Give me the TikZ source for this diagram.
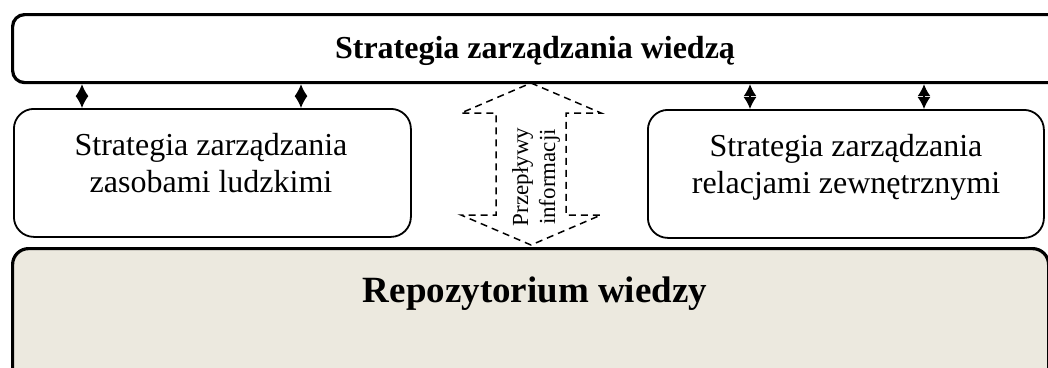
\documentclass[tikz,border=0pt]{standalone}
\usepackage{fontspec}
\setmainfont{Liberation Serif}
\usetikzlibrary{arrows.meta}
\definecolor{repofill}{RGB}{236,233,223}
\tikzset{
  heavybox/.style={draw, line width=3.2pt, rounded corners=12pt, inner sep=0pt},
  lightbox/.style={draw, line width=1.8pt, rounded corners=20pt, inner sep=0pt, anchor=north west},
  linkarrow/.style={line width=1.4pt, {Latex[length=12pt,width=13pt]}-{Latex[length=12pt,width=13pt]}},
  flowline/.style={line width=1.5pt, dash pattern=on 7pt off 5pt, line join=miter},
  boxlabel/.style={font=\fontsize{32}{37}\selectfont, align=center, inner sep=0pt},
}
\begin{document}
\begin{tikzpicture}[x=1pt, y=-1pt]
\useasboundingbox (0,0) rectangle (1048,367);
\clip (0,0) rectangle (1048,367);

% main strategy bar (runs off the right edge)
\node[heavybox, anchor=north west, minimum width=1060pt, minimum height=68pt] (top) at (11,13) {};
\node[font=\bfseries\fontsize{32}{37}\selectfont, anchor=base, inner sep=0pt] (toplabel) at (535,58) {Strategia zarządzania wiedzą};

% two sub-strategies (label anchor = baseline of the last line)
\node[lightbox, minimum width=397pt, minimum height=128pt] (hr) at (13,108) {};
\node[lightbox, minimum width=396pt, minimum height=128pt] (ext) at (647,109) {};
\node[boxlabel, anchor=base] (hrlabel) at (211,192) {Strategia zarządzania\\zasobami ludzkimi};
\node[boxlabel, anchor=base] (extlabel) at (846,193) {Strategia zarządzania\\relacjami zewnętrznymi};

% knowledge repository
\node[heavybox, rounded corners=16pt, fill=repofill, anchor=north west, minimum width=1036pt, minimum height=170pt] (repo) at (11,247) {};
\node[font=\bfseries\fontsize{37}{42}\selectfont, anchor=base, inner sep=0pt] (repolabel) at (535,302) {Repozytorium wiedzy};

% links between the strategy bar and the sub-strategies
\coordinate (l1) at (82,0);
\coordinate (l2) at (301,0);
\coordinate (r1) at (750,0);
\coordinate (r2) at (924,0);
\draw[linkarrow] (top.south -| l1) -- (hr.north -| l1);
\draw[linkarrow] (top.south -| l2) -- (hr.north -| l2);
\draw[linkarrow] (top.south -| r1) -- (ext.north -| r1);
\draw[linkarrow] (top.south -| r2) -- (ext.north -| r2);

% dashed double arrow for information flows
\draw[flowline]
  (531,83) -- (601,113) -- (566,113) -- (566,215) -- (601,215) -- (531,245)
  -- (461,215) -- (496,215) -- (496,113) -- (461,113) -- cycle;
\node[font=\fontsize{23}{27}\selectfont, align=center, rotate=90, inner sep=0pt] (flowlabel) at (536,177) {Przepływy\\informacji};
\end{tikzpicture}
\end{document}
